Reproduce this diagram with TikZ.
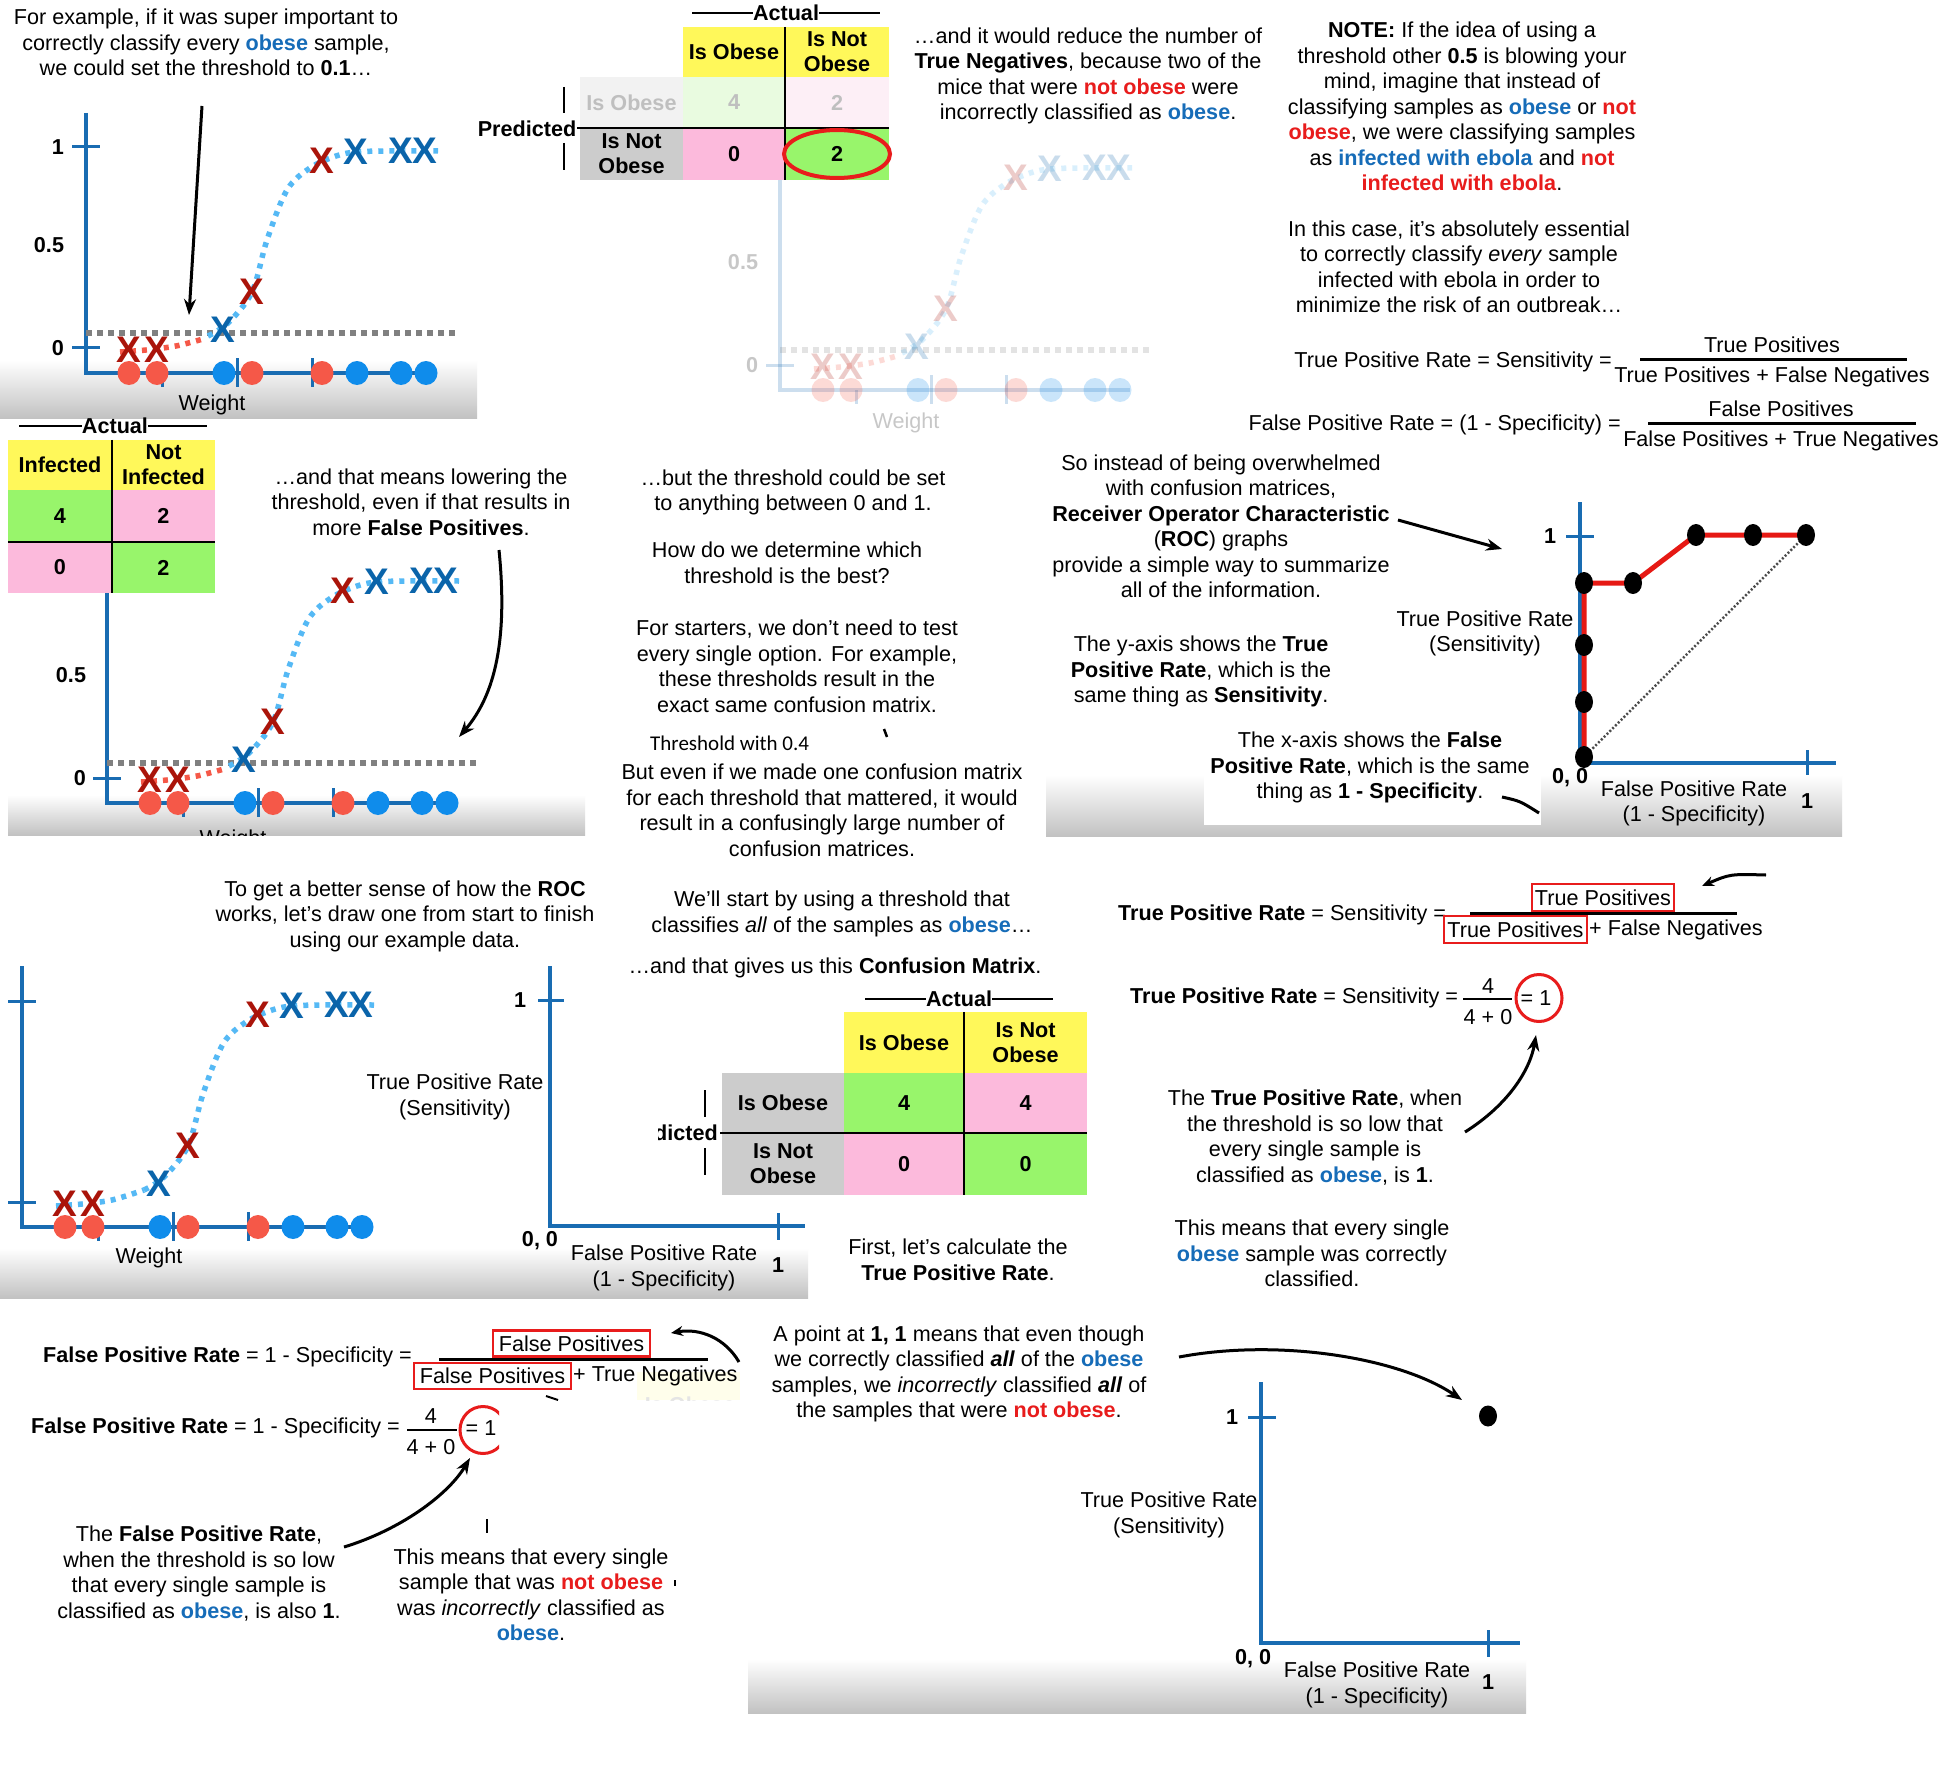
\documentclass[tikz,border=0pt]{standalone}
\usepackage{fontspec}
\setmainfont{Liberation Sans}
\newfontfamily\calib{Carlito}
\usetikzlibrary{arrows.meta}
\definecolor{axblue}{RGB}{25,108,178}
\definecolor{obblue}{RGB}{22,108,184}
\definecolor{notred}{RGB}{232,28,28}
\definecolor{xred}{RGB}{170,20,10}
\definecolor{xblue}{RGB}{10,100,170}
\definecolor{dred}{RGB}{245,88,72}
\definecolor{dblue}{RGB}{15,140,235}
\definecolor{cblue}{RGB}{85,185,245}
\definecolor{thgray}{RGB}{128,128,128}
\definecolor{cyel}{RGB}{255,248,90}
\definecolor{cgreen}{RGB}{152,245,107}
\definecolor{cpink}{RGB}{252,186,220}
\definecolor{cgray}{RGB}{204,204,204}
\definecolor{fgreen}{RGB}{233,251,224}
\definecolor{fpink}{RGB}{253,239,246}
\definecolor{fgray}{RGB}{242,242,242}
\definecolor{rocred}{RGB}{230,25,20}
\newcommand\fs{\fontsize{21.6}{25.5}\selectfont}
\newcommand\cellf{\fontsize{21.6}{25}\selectfont\bfseries}
\newcommand\xf{\fontsize{37}{37}\selectfont\bfseries}
\newcommand\ob[1]{\textcolor{obblue}{\textbf{#1}}}
\newcommand\nob[1]{\textcolor{notred}{\textbf{#1}}}
\tikzset{
 txt/.style={align=center,font=\fs,inner sep=0pt},
 lab/.style={font=\fs\bfseries,inner sep=0pt},
 cell/.style={inner sep=0pt,align=center,font=\cellf},
 axln/.style={axblue,line width=3.5pt},
 tk/.style={axblue,line width=3pt},
 xm/.style={font=\xf,inner sep=0pt},
 curveb/.style={cblue,line width=5.5pt,dash pattern=on 5pt off 6pt},
 curver/.style={dred,line width=5.5pt,dash pattern=on 5pt off 6pt},
 thr/.style={thgray,line width=6.5pt,dash pattern=on 6pt off 5pt},
 arr/.style={black,line width=3pt,-{Stealth[length=16pt,width=12pt]}},
 band/.style={top color=white,bottom color=black!24},
 fbar/.style={line width=3pt},
 rbox/.style={draw=notred,line width=2.5pt,inner sep=0pt,font=\fs},
 tline/.style={line width=1.5pt},
}
\newcommand\lgraph[5]{%
\begin{scope}[shift={(#2,#3)}]
\draw[axln] (0,#4) |- (350,0);
\draw[tk] (76,0) -- (76,14);
\draw[tk] (151,-15) -- (151,14);
\draw[tk] (226,-15) -- (226,14);
\draw[tk] (-14,-25) -- (14,-25);
#5
\draw[curveb] plot[smooth,tension=0.55] coordinates {(122,-37)(142,-50)(166,-81)(181,-133)(201,-183)(224,-205)(250,-217)(270,-221)(300,-222)(352,-222)};
\foreach \xx/\dc in {43/dred,71/dred,138/dblue,166/dred,236/dred,271/dblue,315/dblue,340/dblue} \fill[\dc] (\xx,0) ellipse [x radius=11.5pt,y radius=12pt];
\node[xm,text=xred] (#1x1) at (43,-23) {X};
\node[xm,text=xred] (#1x2) at (71,-23) {X};
\node[xm,text=xblue] (#1x3) at (137,-43) {X};
\node[xm,text=xred] (#1x4) at (166,-81) {X};
\node[xm,text=xred] (#1x5) at (236,-212) {X};
\node[xm,text=xblue] (#1x6) at (270,-221) {X};
\node[xm,text=xblue] (#1x7) at (315,-222) {X};
\node[xm,text=xblue] (#1x8) at (339,-222) {X};
\end{scope}}
\begin{document}
\begin{tikzpicture}[x=1pt,y=-1pt]
\useasboundingbox (0,0) rectangle (1956,1784);
\fill[white] (0,0) rectangle (1956,1784);
% background bands
\shade[band] (0,360) rectangle (477,418);
\shade[band] (8,795) rectangle (585,835);
\shade[band] (1046,775) rectangle (1842,836);
\fill[white] (1204,740) rectangle (1541,825);
\shade[band] (0,1248) rectangle (808,1298);
\shade[band] (748,1659) rectangle (1526,1713);

% ===== Panel A =====
\node[txt] (tA) at (206,42.5) {For example, if it was super important to\\correctly classify every \ob{obese} sample,\\we could set the threshold to \textbf{0.1}…};
\lgraph{A}{86}{373}{-260}{%
 \draw[tk] (-14,-226) -- (14,-226);
 \node[lab] (lA1) at (-28,-226) {1};
 \node[lab] (lA5) at (-37,-128) {0.5};
 \node[lab] (lA0) at (-28,-25) {0};
 \draw[thr] (0,-40) -- (370,-40);
 \draw[curver] plot[smooth] coordinates {(34,-21)(60,-23)(90,-27)(117,-34)};}
\node[txt] (wA) at (212,405) {Weight};
\coordinate (aA1) at (202,106);
\coordinate (aA2) at (189,315);
\draw[arr] (aA1) -- (aA2);

% ===== Panel B =====
\begin{scope}[opacity=0.22]
\lgraph{B}{780}{390}{-210}{%
 \node[lab] (lB5) at (-37,-128) {0.5};
 \node[lab] (lB0) at (-28,-25) {0};
 \draw[thr] (0,-40) -- (370,-40);
 \draw[curver] plot[smooth] coordinates {(34,-21)(60,-23)(90,-27)(117,-34)};}
\node[txt] (wB) at (906,423) {Weight};
\end{scope}
\node[cell,fill=cyel,minimum width=102,minimum height=50] (bh1) at (734,52) {Is Obese};
\node[cell,fill=cyel,minimum width=104,minimum height=50] (bh2) at (837,52) {Is Not\\Obese};
\node[cell,fill=fgray,text=black!25,minimum width=103,minimum height=51] (br1) at (631.5,102.5) {Is Obese};
\node[cell,fill=fgreen,text=black!25,minimum width=102,minimum height=51] (b11) at (734,102.5) {4};
\node[cell,fill=fpink,text=black!25,minimum width=104,minimum height=51] (b12) at (837,102.5) {2};
\node[cell,fill=cgray,minimum width=103,minimum height=52] (br2) at (631.5,154) {Is Not\\Obese};
\node[cell,fill=cpink,minimum width=102,minimum height=52] (b21) at (734,154) {0};
\node[cell,fill=cgreen,minimum width=104,minimum height=52] (b22) at (837,154) {2};
\draw[tline] (577,128) -- (889,128);
\draw[tline] (bh1.north east) -- (b21.south east);
\node[lab] (actB) at (786,13) {Actual};
\coordinate (actBl) at (692,13);
\coordinate (actBr) at (880,13);
\draw[tline] (actBl) -- (actB.west);
\draw[tline] (actB.east) -- (actBr);
\node[lab] (prB) at (527,129) {Predicted};
\draw[tline] (564,87) -- (564,113);
\draw[tline] (564,143) -- (564,170);
\draw[notred,line width=4pt] (b22.center) ellipse [x radius=53pt,y radius=24pt];
\node[txt] (tB) at (1088,76) {…and it would reduce the number of\\\textbf{True Negatives}, because two of the\\mice that were \nob{not obese} were\\incorrectly classified as \ob{obese}.};

% ===== Panel C =====
\node[txt] (tC1) at (1462,106.5) {\textbf{NOTE:} If the idea of using a\\threshold other \textbf{0.5} is blowing your\\mind, imagine that instead of\\classifying samples as \ob{obese} or \nob{not}\\\nob{obese}, we were classifying samples\\as \ob{infected with ebola} and \nob{not}\\\nob{infected with ebola}.};
\node[txt] (tC2) at (1459,267) {In this case, it’s absolutely essential\\to correctly classify \textit{every} sample\\infected with ebola in order to\\minimize the risk of an outbreak…};
\node[txt,anchor=east] (fC1) at (1612,362) {True Positive Rate = Sensitivity =};
\node[txt] (fC1n) at (1772,345) {True Positives};
\draw[fbar] (1640,359) -- (1907,359);
\node[txt] (fC1d) at (1772,377) {True Positives + False Negatives};
\node[txt,anchor=east] (fC2) at (1621,425) {False Positive Rate = (1 - Specificity) =};
\node[txt] (fC2n) at (1781,409) {False Positives};
\draw[fbar] (1648,423) -- (1916,423);
\node[txt] (fC2d) at (1781,441) {False Positives + True Negatives};

% ===== Panel D =====
\lgraph{D}{107}{803}{-210}{%
 \node[lab] (lD5) at (-36,-128) {0.5};
 \node[lab] (lD0) at (-27,-25) {0};
 \draw[thr] (0,-40) -- (370,-40);
 \draw[curver] plot[smooth] coordinates {(34,-21)(60,-23)(90,-27)(117,-34)};}
\node[cell,fill=cyel,minimum width=104,minimum height=50] (dh1) at (60,465) {Infected};
\node[cell,fill=cyel,minimum width=103,minimum height=50] (dh2) at (163.5,465) {Not\\Infected};
\node[cell,fill=cgreen,minimum width=104,minimum height=52] (d11) at (60,516) {4};
\node[cell,fill=cpink,minimum width=103,minimum height=52] (d12) at (163.5,516) {2};
\node[cell,fill=cpink,minimum width=104,minimum height=51] (d21) at (60,567.5) {0};
\node[cell,fill=cgreen,minimum width=103,minimum height=51] (d22) at (163.5,567.5) {2};
\draw[tline] (dh1.north east) -- (d21.south east);
\draw[tline] (d11.south west) -- (d12.south east);
\node[lab] (actD) at (115,426) {Actual};
\coordinate (actDl) at (19,426);
\coordinate (actDr) at (207,426);
\draw[tline] (actDl) -- (actD.west);
\draw[tline] (actD.east) -- (actDr);
\node[txt] (tD) at (421,502) {…and that means lowering the\\threshold, even if that results in\\more \textbf{False Positives}.};
\coordinate (aD1) at (499,550);
\coordinate (aD2) at (459,737);
\draw[arr] (aD1) .. controls (508,640) and (495,695) .. (aD2);
\begin{scope}
\clip (150,790) rectangle (320,835);
\node[txt] (wD) at (233,840) {Weight};
\end{scope}

% ===== Panel E =====
\node[txt] (tE1) at (793,492.5) {…but the threshold could be set\\to anything between 0 and 1.};
\node[txt] (tE2) at (787,563) {How do we determine which\\threshold is the best?};
\node[txt] (tE3) at (797,666.5) {For starters, we don’t need to test\\every single option. For example,\\these thresholds result in the\\exact same confusion matrix.};
\node[inner sep=0pt,anchor=west,font=\calib\fontsize{21}{24}\selectfont] (tE4) at (650,743) {Threshold with 0.4};
\draw[line width=2.5pt] (884,729) -- (887,737);
\node[txt] (tE5) at (822,810.5) {But even if we made one confusion matrix\\for each threshold that mattered, it would\\result in a confusingly large number of\\confusion matrices.};

% ===== Panel F =====
\node[txt] (tF1) at (1221,526.5) {So instead of being overwhelmed\\with confusion matrices,\\\textbf{Receiver Operator Characteristic}\\(\textbf{ROC}) graphs\\provide a simple way to summarize\\all of the information.};
\coordinate (aF1) at (1398,520);
\coordinate (aF2) at (1502,549);
\draw[arr] (aF1) -- (aF2);
\node[txt] (tF2) at (1201,671.5) {The y-axis shows the \textbf{True}\\\textbf{Positive Rate}, which is the\\same thing as \textbf{Sensitivity}.};
\node[txt] (tF3) at (1485,633.5) {True Positive Rate\\(Sensitivity)};
\node[txt] (tF4) at (1370,767.5) {The x-axis shows the \textbf{False}\\\textbf{Positive Rate}, which is the same\\thing as \textbf{1 - Specificity}.};
\coordinate (aF3) at (1502,797);
\coordinate (aF4) at (1539,813);
\draw[line width=3pt] (aF3) .. controls (1520,801) .. (aF4);
\draw[axln] (1580,502) |- (1836,763);
\draw[tk] (1566,536) -- (1594,536);
\draw[tk] (1807,750) -- (1807,775);
\node[lab] (fF1) at (1550,536) {1};
\node[lab] (fF00) at (1570,778) {0, 0};
\node[lab] (fF1x) at (1807,801) {1};
\node[txt] (fF5) at (1694,803.5) {False Positive Rate\\(1 - Specificity)};
\draw[black!70,line width=2.5pt,dash pattern=on 2pt off 2pt] (1584,757) -- (1806,535);
\draw[rocred,line width=5pt,line join=round] (1584,757) -- (1584,583) -- (1633,583) -- (1696,535) -- (1806,535);
\foreach \p in {(1584,757),(1584,702),(1584,645),(1584,583),(1633,583),(1696,535),(1753,535),(1806,535)} \fill \p ellipse [x radius=9pt,y radius=11pt];

% ===== Panel G =====
\node[txt] (tG1) at (405,916) {To get a better sense of how the \textbf{ROC}\\works, let’s draw one from start to finish\\using our example data.};
\lgraph{G}{22}{1227}{-261}{%
 \draw[tk] (-14,-226) -- (14,-226);
 \node[lab] (lG0) at (-28,-25) {0};
 \draw[curveb] plot[smooth] coordinates {(34,-21)(60,-23)(90,-27)(122,-37)};}
\node[txt] (wG) at (149,1258) {Weight};
\draw[axln] (550,966) |- (805,1226);
\draw[tk] (538,1000) -- (564,1000);
\draw[tk] (778,1213) -- (778,1240);
\node[lab] (gG1) at (520,1000) {1};
\node[lab] (gG00) at (540,1241) {0, 0};
\node[lab] (gG1x) at (778,1265) {1};
\node[txt] (gG5) at (664,1268) {False Positive Rate\\(1 - Specificity)};
\node[txt] (gG6) at (455,1097) {True Positive Rate\\(Sensitivity)};

% ===== Panel H =====
\node[txt] (tH0) at (842,914) {We’ll start by using a threshold that\\classifies \textit{all} of the samples as \ob{obese}…};
\node[txt] (tH1) at (835,968) {…and that gives us this \textbf{Confusion Matrix}.};
\node[cell,fill=cyel,minimum width=120,minimum height=61] (hh1) at (904,1042.5) {Is Obese};
\node[cell,fill=cyel,minimum width=123,minimum height=61] (hh2) at (1025.5,1042.5) {Is Not\\Obese};
\node[cell,fill=cgray,minimum width=122,minimum height=60] (hr1) at (783,1103) {Is Obese};
\node[cell,fill=cgreen,minimum width=120,minimum height=60] (h11) at (904,1103) {4};
\node[cell,fill=cpink,minimum width=123,minimum height=60] (h12) at (1025.5,1103) {4};
\node[cell,fill=cgray,minimum width=122,minimum height=62] (hr2) at (783,1164) {Is Not\\Obese};
\node[cell,fill=cpink,minimum width=120,minimum height=62] (h21) at (904,1164) {0};
\node[cell,fill=cgreen,minimum width=123,minimum height=62] (h22) at (1025.5,1164) {0};
\draw[tline] (720,1133) -- (1087,1133);
\draw[tline] (hh1.north east) -- (h21.south east);
\node[lab] (actH) at (959,999) {Actual};
\coordinate (actHl) at (865,999);
\coordinate (actHr) at (1053,999);
\draw[tline] (actHl) -- (actH.west);
\draw[tline] (actH.east) -- (actHr);
\begin{scope}
\clip (658,1100) rectangle (721,1165);
\node[lab,anchor=east] (prH) at (718,1133) {Predicted};
\end{scope}
\draw[tline] (705,1090) -- (705,1117);
\draw[tline] (705,1148) -- (705,1175);
\node[txt] (tH2) at (958,1260) {First, let’s calculate the\\\textbf{True Positive Rate}.};

% ===== Panel I =====
\node[txt,anchor=west] (fI1) at (1118,915) {\textbf{True Positive Rate} = Sensitivity =};
\node[rbox,minimum width=142,minimum height=27] (nI1) at (1603,897.5) {True Positives};
\draw[fbar] (1470,913) -- (1737,913);
\node[rbox,minimum width=143,minimum height=27] (dI1) at (1515.5,929.5) {True Positives};
\node[txt,anchor=west] (dI2) at (1589,930) {+ False Negatives};
\coordinate (aI1) at (1766,875);
\coordinate (aI2) at (1702,886);
\draw[arr,-{Stealth[length=12pt,width=10pt]}] (aI1) .. controls (1730,874) .. (aI2);
\node[txt,anchor=west] (fI2) at (1130,998) {\textbf{True Positive Rate} = Sensitivity =};
\node[txt] (nI2) at (1488,986) {4};
\draw[line width=2.5pt] (1463,999) -- (1512,999);
\node[txt] (dI3) at (1488,1017) {4 + 0};
\node[txt] (eI) at (1536,998) {= 1};
\draw[notred,line width=3pt] (1539,998) ellipse [x radius=23pt,y radius=23.5pt];
\coordinate (aI3) at (1465,1132);
\coordinate (aI4) at (1536,1035);
\draw[arr] (aI3) .. controls (1508,1105) and (1530,1070) .. (aI4);
\node[txt] (tI1) at (1315,1137.5) {The \textbf{True Positive Rate}, when\\the threshold is so low that\\every single sample is\\classified as \ob{obese}, is \textbf{1}.};
\node[txt] (tI2) at (1312,1253.5) {This means that every single\\\ob{obese} sample was correctly\\classified.};

% ===== Panel J =====
\begin{scope}
\clip (637,1372) rectangle (740,1400);
\fill[cyel!12] (637,1372) rectangle (740,1400);
\node[cell,text=black!10] (jfr) at (690,1405) {Is Obese};
\end{scope}
\draw[line width=2pt] (546,1396) -- (558,1400);
\node[txt,anchor=east] (fJ1) at (412,1357) {\textbf{False Positive Rate} = 1 - Specificity =};
\node[rbox,minimum width=157,minimum height=26] (nJ1) at (571.5,1343.5) {False Positives};
\draw[fbar] (439,1359) -- (708,1359);
\node[rbox,minimum width=157,minimum height=26] (dJ1) at (492.5,1376) {False Positives};
\node[txt,anchor=west] (dJ2) at (573,1376) {+ True Negatives};
\coordinate (aJ1) at (739,1362);
\coordinate (aJ2) at (671,1333);
\draw[arr,-{Stealth[length=12pt,width=10pt]}] (aJ1) .. controls (725,1338) and (700,1328) .. (aJ2);
\node[txt,anchor=east] (fJ2) at (400,1428) {\textbf{False Positive Rate} = 1 - Specificity =};
\node[txt] (nJ2) at (431,1416) {4};
\draw[line width=2.5pt] (407,1430) -- (457,1430);
\node[txt] (dJ3) at (431,1447) {4 + 0};
\begin{scope}
\clip (440,1395) rectangle (499,1465);
\node[txt] (eJ) at (481,1428) {= 1};
\draw[notred,line width=3pt] (483,1430) ellipse [x radius=23pt,y radius=23.5pt];
\end{scope}
\coordinate (aJ3) at (344,1547);
\coordinate (aJ4) at (470,1458);
\draw[arr] (aJ3) .. controls (400,1530) and (448,1495) .. (aJ4);
\node[txt] (tJ1) at (199,1573.5) {The \textbf{False Positive Rate},\\when the threshold is so low\\that every single sample is\\classified as \ob{obese}, is also \textbf{1}.};
\draw[line width=1.5pt] (487,1519) -- (487,1533);
\node[txt] (tJ2) at (531,1595) {This means that every single\\sample that was \nob{not obese}\\was \textit{incorrectly} classified as\\\ob{obese}.};
\draw[line width=1.5pt] (675,1580) -- (675,1586);

% ===== Panel K =====
\node[txt] (tK1) at (959,1374) {A point at \textbf{1, 1} means that even though\\we correctly classified \textbf{\textit{all}} of the \ob{obese}\\samples, we \textit{incorrectly} classified \textbf{\textit{all}} of\\the samples that were \nob{not obese}.};
\coordinate (aK1) at (1179,1357);
\coordinate (aK2) at (1462,1400);
\draw[arr] (aK1) .. controls (1280,1338) and (1400,1358) .. (aK2);
\draw[axln] (1261,1382) |- (1520,1643);
\draw[tk] (1248,1417) -- (1276,1417);
\draw[tk] (1488,1630) -- (1488,1657);
\fill (1488,1416) ellipse [x radius=9pt,y radius=10.5pt];
\node[lab] (kK1) at (1232,1417) {1};
\node[lab] (kK00) at (1253,1659) {0, 0};
\node[lab] (kK1x) at (1488,1682) {1};
\node[txt] (kK5) at (1377,1685) {False Positive Rate\\(1 - Specificity)};
\node[txt] (kK6) at (1169,1515) {True Positive Rate\\(Sensitivity)};
\end{tikzpicture}
\end{document}
